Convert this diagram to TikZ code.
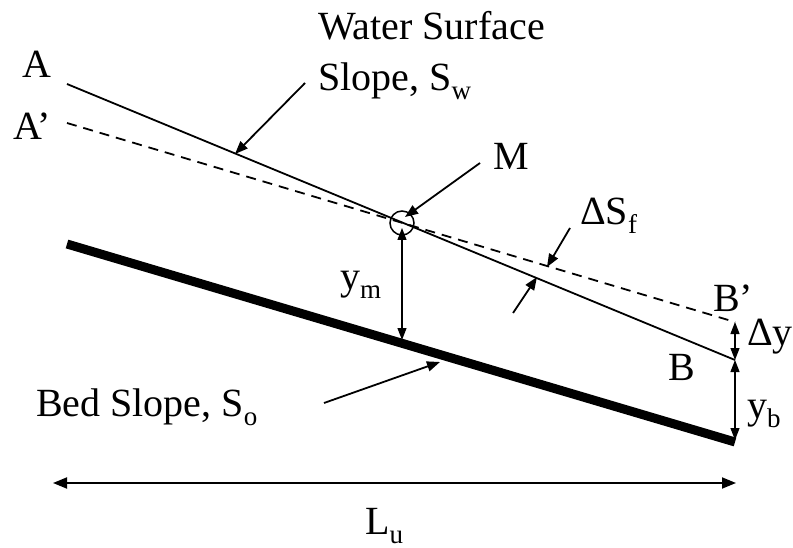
\documentclass[tikz,border=0pt]{standalone}
\usepackage{fontspec}
\setmainfont{Liberation Serif}
\usetikzlibrary{arrows.meta}
\newcommand\subx[1]{\raisebox{-9pt}{\fontsize{27}{27}\selectfont #1}}
\begin{document}
\begin{tikzpicture}[x=1pt,y=-1pt,
  lbl/.style={font=\fontsize{40}{44}\selectfont, inner sep=0pt, anchor=base west},
  thinline/.style={line width=1.8pt},
  ptr/.style={line width=1.8pt,-{Triangle[length=13pt,width=10pt]}},
  dimarrow/.style={line width=1.2pt,{Triangle[length=12pt,width=9pt]}-{Triangle[length=12pt,width=9pt]}}]
\useasboundingbox (0,0) rectangle (793,548);
% main lines
\coordinate (A0) at (67,84);
\coordinate (B0) at (735,360);
\coordinate (Ap0) at (67,123);
\coordinate (Bp0) at (735,322);
\coordinate (bedL) at (67,244);
\coordinate (bedR) at (735,442);
\coordinate (bedTopM) at (402,340);
\draw[thinline] (A0) -- (B0);
\draw[thinline, dash pattern=on 10pt off 7pt] (Ap0) -- (Bp0);
\draw[line width=9pt] (bedL) -- (bedR);
\node[circle, draw, line width=1.5pt, minimum size=24pt, inner sep=0pt] (M) at (402,223) {};
% labels
\node[lbl] (lA) at (22,78) {A};
\node[lbl] (lAp) at (13,140) {A’};
\node[lbl] (lWS1) at (318,40) {Water Surface};
\node[lbl] (lWS2) at (318,91) {Slope, S\subx{w}};
\node[lbl] (lM) at (493,170) {M};
\node[lbl] (lDSf) at (580,225) {ΔS\subx{f}};
\node[lbl] (lBp) at (713,312) {B’};
\node[lbl] (lB) at (668,380) {B};
\node[lbl] (lDy) at (747,345) {Δy};
\node[lbl] (lyb) at (747,418) {y\subx{b}};
\node[lbl] (lym) at (340,290) {y\subx{m}};
\node[lbl] (lBed) at (36,416) {Bed Slope, S\subx{o}};
\node[lbl] (lLu) at (365,534) {L\subx{u}};
% pointer arrows
\coordinate (wsS) at (305,83);
\coordinate (wsE) at (235,154);
\draw[ptr] (wsS) -- (wsE);
\coordinate (mS) at (480,163);
\coordinate (mE) at (405,217);
\draw[ptr] (mS) -- (mE);
\coordinate (dsS) at (570,228);
\coordinate (dsE) at (547,267);
\draw[ptr] (dsS) -- (dsE);
\coordinate (dsS2) at (513,313);
\coordinate (dsE2) at (537,277);
\draw[ptr] (dsS2) -- (dsE2);
\coordinate (bsS) at (324,403);
\coordinate (bsE) at (440,362);
\draw[ptr] (bsS) -- (bsE);
% dimension arrows
\draw[dimarrow] (402,228) -- (bedTopM);
\draw[dimarrow] (Bp0) -- (B0);
\draw[dimarrow] (B0) -- (735,440);
\coordinate (luL) at (53,483);
\coordinate (luR) at (736,483);
\draw[line width=1.8pt,{Triangle[length=14pt,width=11pt]}-{Triangle[length=14pt,width=11pt]}] (luL) -- (luR);
\end{tikzpicture}
\end{document}
